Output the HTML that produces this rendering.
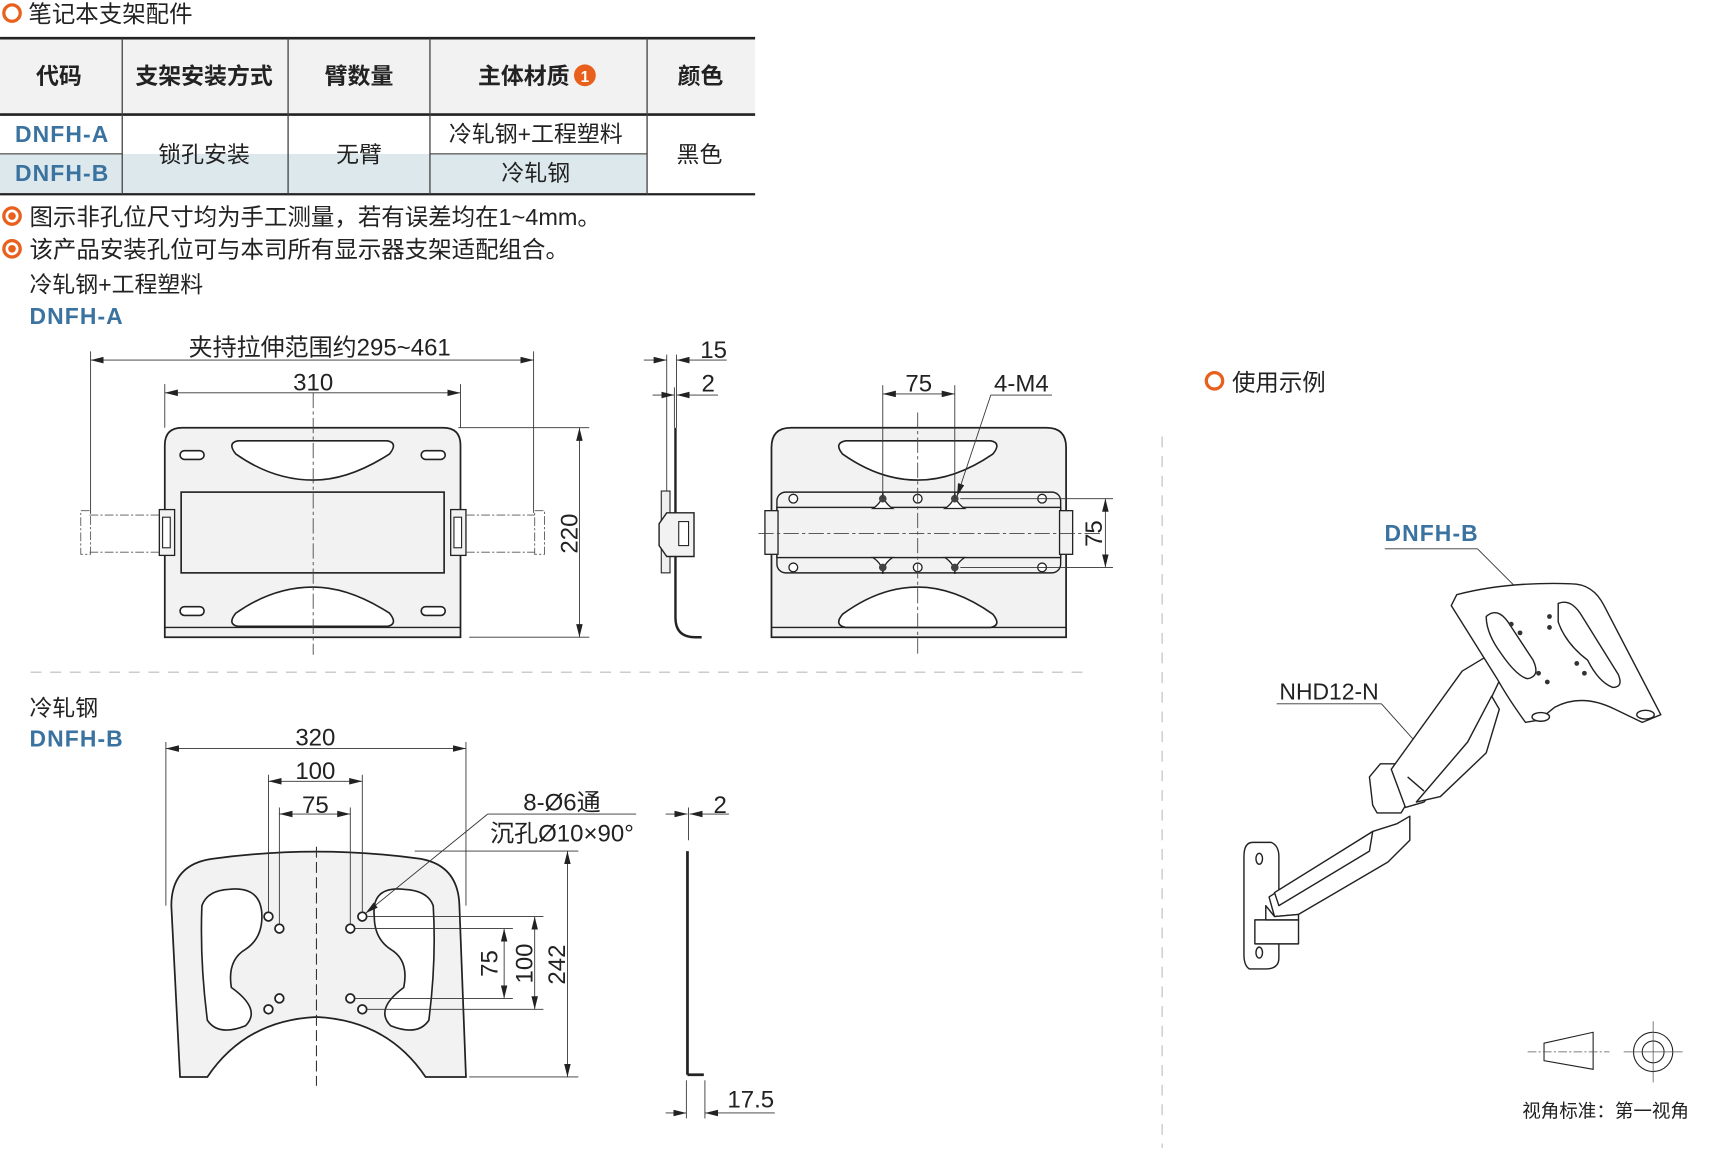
<!DOCTYPE html>
<html><head><meta charset="utf-8">
<style>
html,body{margin:0;padding:0;background:#fff;}
svg{display:block;}
text{font-family:"Liberation Sans","Noto Sans CJK SC",sans-serif;fill:#222;}
.blue{fill:#3a72a0;font-weight:bold;letter-spacing:1px;}
.ln{stroke:#222;stroke-width:1.2;fill:none;}
.thin{stroke:#333;stroke-width:0.8;fill:none;}
.cl{stroke:#444;stroke-width:0.8;fill:none;stroke-dasharray:14 3 3 3;}
.part{fill:#f2f2f2;stroke:#222;stroke-width:1.6;}
.hole{fill:#fff;stroke:#222;stroke-width:1.5;}
</style></head><body>
<svg width="1711" height="1149" viewBox="0 0 1568 1053" xmlns="http://www.w3.org/2000/svg">
<defs>
<marker id="ar" viewBox="0 0 12 6" refX="12" refY="3" markerWidth="12" markerHeight="6" orient="auto-start-reverse" markerUnits="userSpaceOnUse"><path d="M0,0 L12,3 L0,6 Z" fill="#222"/></marker>
</defs>

<circle cx="11" cy="12" r="7.5" fill="none" stroke="#e8601c" stroke-width="3"/>
<text x="26" y="20" font-size="21.5">笔记本支架配件</text>

<rect x="0" y="35" width="692" height="70" fill="#f2f2f2"/>
<rect x="0" y="141" width="593" height="37" fill="#dde8ec"/>
<rect x="112" y="105" width="152" height="36" fill="#fff"/>
<rect x="264" y="105" width="130" height="36" fill="#fff"/>
<line x1="0" y1="35" x2="692" y2="35" stroke="#222" stroke-width="2.5"/>
<line x1="0" y1="105" x2="692" y2="105" stroke="#222" stroke-width="2.5"/>
<line x1="0" y1="178" x2="692" y2="178" stroke="#222" stroke-width="2"/>
<line x1="0" y1="141" x2="112" y2="141" stroke="#777" stroke-width="1.5"/>
<line x1="394" y1="141" x2="593" y2="141" stroke="#777" stroke-width="1.5"/>
<g stroke="#444" stroke-width="1.2">
<line x1="112" y1="35" x2="112" y2="178"/><line x1="264" y1="35" x2="264" y2="178"/>
<line x1="394" y1="35" x2="394" y2="178"/><line x1="593" y1="35" x2="593" y2="178"/>
</g>
<g font-size="21" font-weight="bold" text-anchor="middle">
<text x="54" y="77">代码</text><text x="187" y="77">支架安装方式</text><text x="329" y="77">臂数量</text>
<text x="480" y="77">主体材质</text><text x="642" y="77">颜色</text>
</g>
<circle cx="536" cy="69" r="10" fill="#e8601c"/><text x="536" y="75" font-size="14" font-weight="bold" text-anchor="middle" style="fill:#fff">1</text>
<g font-size="21" text-anchor="middle">
<text x="57" y="130" class="blue">DNFH-A</text><text x="57" y="166" class="blue">DNFH-B</text>
<text x="187" y="149">锁孔安装</text><text x="329" y="149">无臂</text>
<text x="491" y="130">冷轧钢+工程塑料</text><text x="491" y="166">冷轧钢</text>
<text x="641" y="149">黑色</text>
</g>

<circle cx="11" cy="198" r="7.5" fill="none" stroke="#e8601c" stroke-width="3"/><circle cx="11" cy="198" r="3.5" fill="#e8601c"/>
<text x="27" y="206" font-size="21.5">图示非孔位尺寸均为手工测量，若有误差均在1~4mm。</text>
<circle cx="11" cy="228" r="7.5" fill="none" stroke="#e8601c" stroke-width="3"/><circle cx="11" cy="228" r="3.5" fill="#e8601c"/>
<text x="27" y="236" font-size="21.5">该产品安装孔位可与本司所有显示器支架适配组合。</text>
<text x="27" y="268" font-size="21">冷轧钢+工程塑料</text>
<text x="27" y="297" font-size="21" class="blue">DNFH-A</text>

<!-- View A front -->
<path class="part" d="M151,584 L151,408 Q151,392 167,392 L406,392 Q422,392 422,408 L422,584 Z"/>
<line class="ln" x1="151" y1="575" x2="422" y2="575"/>
<rect x="166" y="451" width="241" height="74" class="hole" style="fill:#f2f2f2"/>
<rect x="165" y="413" width="22" height="8" rx="4" class="hole"/><rect x="386" y="413" width="22" height="8" rx="4" class="hole"/>
<rect x="165" y="556" width="22" height="8" rx="4" class="hole"/><rect x="386" y="556" width="22" height="8" rx="4" class="hole"/>
<path class="hole" d="M218,404 L355,404 Q365,406 357,416 Q320,440 287,440 Q250,440 216,416 Q208,406 218,404 Z"/>
<path class="hole" d="M218,574 L355,574 Q365,572 357,562 Q320,538 287,538 Q250,538 216,562 Q208,572 218,574 Z"/>
<rect x="146" y="467" width="14" height="42" class="part" style="stroke-width:1.2"/><rect x="149" y="474" width="7" height="28" class="hole" style="stroke-width:1"/>
<rect x="413" y="467" width="14" height="42" class="part" style="stroke-width:1.2"/><rect x="416" y="474" width="7" height="28" class="hole" style="stroke-width:1"/>
<g stroke="#555" stroke-width="0.8" fill="none" stroke-dasharray="8 2 2 2">
<line x1="82" y1="472" x2="146" y2="472"/><line x1="82" y1="506" x2="146" y2="506"/>
<line x1="427" y1="472" x2="490" y2="472"/><line x1="427" y1="506" x2="490" y2="506"/>
<rect x="74" y="468" width="9" height="40"/><rect x="490" y="468" width="9" height="40"/>
</g>
<line class="cl" x1="287" y1="360" x2="287" y2="600"/>
<line class="thin" x1="83" y1="322" x2="83" y2="470"/><line class="thin" x1="489" y1="322" x2="489" y2="470"/>
<line class="thin" x1="83" y1="330" x2="489" y2="330" marker-start="url(#ar)" marker-end="url(#ar)"/>
<text x="293" y="326" font-size="22" text-anchor="middle">夹持拉伸范围约295~461</text>
<line class="thin" x1="151" y1="352" x2="151" y2="392"/><line class="thin" x1="422" y1="352" x2="422" y2="392"/>
<line class="thin" x1="151" y1="360" x2="422" y2="360" marker-start="url(#ar)" marker-end="url(#ar)"/>
<text x="287" y="358" font-size="22" text-anchor="middle">310</text>
<line class="thin" x1="420" y1="392" x2="540" y2="392"/><line class="thin" x1="430" y1="584" x2="540" y2="584"/>
<line class="thin" x1="531" y1="392" x2="531" y2="584" marker-start="url(#ar)" marker-end="url(#ar)"/>
<text transform="translate(529,489) rotate(-90)" font-size="22" text-anchor="middle">220</text>

<!-- side A -->
<path d="M619,392 L619,566 Q619,584 637,584 L643,584" stroke="#222" stroke-width="2.2" fill="none"/>
<rect x="606" y="450" width="8" height="75" fill="#eee" stroke="#222" stroke-width="1"/>
<path class="part" d="M611,470 L636,470 L636,510 L611,510 L604,500 L604,480 Z" style="stroke-width:1.3"/>
<rect x="622" y="478" width="9" height="22" class="hole" style="stroke-width:1"/>
<line class="thin" x1="611" y1="325" x2="611" y2="450"/><line class="thin" x1="620" y1="325" x2="620" y2="392"/>
<line class="thin" x1="590" y1="330" x2="611" y2="330" marker-end="url(#ar)"/><line class="thin" x1="666" y1="330" x2="620" y2="330" marker-end="url(#ar)"/>
<text x="654" y="328" font-size="22" text-anchor="middle">15</text>
<line class="thin" x1="618" y1="355" x2="618" y2="392"/>
<line class="thin" x1="598" y1="362" x2="618" y2="362" marker-end="url(#ar)"/><line class="thin" x1="658" y1="362" x2="620" y2="362" marker-end="url(#ar)"/>
<text x="649" y="359" font-size="22" text-anchor="middle">2</text>

<!-- Back view A -->
<path class="part" d="M707,584 L707,410 Q707,392 725,392 L959,392 Q977,392 977,410 L977,584 Z"/>
<line class="ln" x1="707" y1="575" x2="977" y2="575"/>
<path class="hole" d="M775,404 L908,404 Q918,406 910,416 Q875,440 841,440 Q806,440 772,416 Q764,406 775,404 Z"/>
<path class="hole" d="M775,575 L908,575 Q918,573 910,563 Q875,538 841,538 Q806,538 772,563 Q764,573 775,575 Z"/>
<rect x="712" y="451" width="260" height="74" rx="8" class="part" style="stroke-width:1.3"/>
<rect x="712" y="465" width="260" height="46" fill="#f2f2f2" stroke="#222" stroke-width="1.3"/>
<rect x="701" y="468" width="12" height="40" class="part" style="stroke-width:1.2"/><rect x="971" y="468" width="12" height="40" class="part" style="stroke-width:1.2"/>
<g class="hole" style="stroke-width:1.2">
<circle cx="727" cy="457" r="4"/><circle cx="841" cy="457" r="4"/><circle cx="955" cy="457" r="4"/>
<circle cx="727" cy="520" r="4"/><circle cx="841" cy="520" r="4"/><circle cx="955" cy="520" r="4"/>
<path d="M800,466 Q809,460 809,451 Q809,460 818,466 Z"/><path d="M866,466 Q875,460 875,451 Q875,460 884,466 Z"/>
<path d="M800,511 Q809,517 809,526 Q809,517 818,511 Z"/><path d="M866,511 Q875,517 875,526 Q875,517 884,511 Z"/>
</g>
<g fill="#444"><circle cx="809" cy="457" r="3.5"/><circle cx="875" cy="457" r="3.5"/><circle cx="809" cy="520" r="3.5"/><circle cx="875" cy="520" r="3.5"/></g>
<line class="cl" x1="841" y1="378" x2="841" y2="600"/><line class="cl" x1="695" y1="489" x2="1010" y2="489"/>
<line class="thin" x1="809" y1="353" x2="809" y2="457"/><line class="thin" x1="875" y1="353" x2="875" y2="457"/>
<line class="thin" x1="809" y1="361" x2="875" y2="361" marker-start="url(#ar)" marker-end="url(#ar)"/>
<text x="842" y="359" font-size="22" text-anchor="middle">75</text>
<text x="936" y="359" font-size="22" text-anchor="middle">4-M4</text>
<line class="thin" x1="908" y1="362" x2="964" y2="362"/>
<line class="thin" x1="908" y1="362" x2="877" y2="455" marker-end="url(#ar)"/>
<line class="thin" x1="880" y1="457" x2="1020" y2="457"/><line class="thin" x1="880" y1="520" x2="1020" y2="520"/>
<line class="thin" x1="1013" y1="457" x2="1013" y2="520" marker-start="url(#ar)" marker-end="url(#ar)"/>
<text transform="translate(1010,489) rotate(-90)" font-size="22" text-anchor="middle">75</text>

<line x1="28" y1="616" x2="1000" y2="616" stroke="#bbb" stroke-width="1" stroke-dasharray="10 8"/>
<line x1="1065" y1="400" x2="1065" y2="1052" stroke="#bbb" stroke-width="1" stroke-dasharray="10 8"/>

<!-- B section -->
<text x="27" y="656" font-size="21">冷轧钢</text>
<text x="27" y="684" font-size="21" class="blue">DNFH-B</text>
<path class="part" d="M165,987 L157,830 Q157,792 195,787 Q290,774 385,787 Q420,793 421,830 L427,987 L390,987 Q355,935 290,932 Q225,935 190,987 Z"/>
<path class="hole" d="M210,815 Q240,812 240,840 Q240,860 225,870 Q208,880 212,905 Q240,925 225,940 Q200,950 190,935 Q183,880 185,830 Q190,816 210,815 Z"/>
<path class="hole" d="M370,815 Q340,812 343,840 Q343,860 358,870 Q375,880 370,905 Q343,925 358,940 Q383,950 393,935 Q400,880 397,830 Q392,816 370,815 Z"/>
<g class="hole" style="stroke-width:1.6">
<circle cx="246" cy="840" r="4"/><circle cx="256" cy="851" r="4"/><circle cx="321" cy="851" r="4"/><circle cx="332" cy="840" r="4"/>
<circle cx="256" cy="915" r="4"/><circle cx="246" cy="925" r="4"/><circle cx="321" cy="915" r="4"/><circle cx="332" cy="925" r="4"/>
</g>
<line x1="290" y1="776" x2="290" y2="995" stroke="#333" stroke-width="1" stroke-dasharray="10 4"/>
<line class="thin" x1="152" y1="680" x2="152" y2="830"/><line class="thin" x1="427" y1="680" x2="427" y2="830"/>
<line class="thin" x1="152" y1="686" x2="427" y2="686" marker-start="url(#ar)" marker-end="url(#ar)"/>
<text x="289" y="683" font-size="22" text-anchor="middle">320</text>
<line class="thin" x1="246" y1="710" x2="246" y2="836"/><line class="thin" x1="332" y1="710" x2="332" y2="836"/>
<line class="thin" x1="246" y1="716" x2="332" y2="716" marker-start="url(#ar)" marker-end="url(#ar)"/>
<text x="289" y="714" font-size="22" text-anchor="middle">100</text>
<line class="thin" x1="256" y1="740" x2="256" y2="847"/><line class="thin" x1="321" y1="740" x2="321" y2="847"/>
<line class="thin" x1="256" y1="746" x2="321" y2="746" marker-start="url(#ar)" marker-end="url(#ar)"/>
<text x="289" y="745" font-size="22" text-anchor="middle">75</text>
<text x="515" y="743" font-size="22" text-anchor="middle">8-Ø6通</text>
<text x="515" y="771" font-size="22" text-anchor="middle">沉孔Ø10×90°</text>
<line class="thin" x1="447" y1="746" x2="583" y2="746"/>
<line class="thin" x1="447" y1="746" x2="335" y2="837" marker-end="url(#ar)"/>
<line class="thin" x1="380" y1="780" x2="530" y2="780"/><line class="thin" x1="430" y1="987" x2="530" y2="987"/>
<line class="thin" x1="520" y1="780" x2="520" y2="987" marker-start="url(#ar)" marker-end="url(#ar)"/>
<text transform="translate(518,884) rotate(-90)" font-size="22" text-anchor="middle">242</text>
<line class="thin" x1="336" y1="840" x2="498" y2="840"/><line class="thin" x1="336" y1="925" x2="498" y2="925"/>
<line class="thin" x1="490" y1="840" x2="490" y2="925" marker-start="url(#ar)" marker-end="url(#ar)"/>
<text transform="translate(488,883) rotate(-90)" font-size="22" text-anchor="middle">100</text>
<line class="thin" x1="325" y1="851" x2="470" y2="851"/><line class="thin" x1="325" y1="915" x2="470" y2="915"/>
<line class="thin" x1="462" y1="851" x2="462" y2="915" marker-start="url(#ar)" marker-end="url(#ar)"/>
<text transform="translate(456,883) rotate(-90)" font-size="22" text-anchor="middle">75</text>
<line x1="630" y1="780" x2="630" y2="985" stroke="#222" stroke-width="2.5"/>
<line x1="630" y1="985" x2="645" y2="985" stroke="#222" stroke-width="2.5"/>
<line class="thin" x1="631" y1="740" x2="631" y2="770"/>
<line class="thin" x1="610" y1="746" x2="630" y2="746" marker-end="url(#ar)"/><line class="thin" x1="668" y1="746" x2="632" y2="746" marker-end="url(#ar)"/>
<text x="660" y="745" font-size="22" text-anchor="middle">2</text>
<line class="thin" x1="629" y1="990" x2="629" y2="1025"/><line class="thin" x1="646" y1="990" x2="646" y2="1025"/>
<line class="thin" x1="610" y1="1020" x2="629" y2="1020" marker-end="url(#ar)"/><line class="thin" x1="710" y1="1020" x2="646" y2="1020" marker-end="url(#ar)"/>
<text x="688" y="1015" font-size="22" text-anchor="middle">17.5</text>

<!-- Usage example -->
<circle cx="1113" cy="349" r="7.5" fill="none" stroke="#e8601c" stroke-width="3"/>
<text x="1129" y="358" font-size="21.5">使用示例</text>
<text x="1312" y="496" font-size="21" class="blue" text-anchor="middle">DNFH-B</text>
<line class="thin" x1="1269" y1="503" x2="1354" y2="503"/><line class="thin" x1="1354" y1="503" x2="1388" y2="537"/>
<text x="1218" y="641" font-size="21" text-anchor="middle">NHD12-N</text>
<line class="thin" x1="1170" y1="645" x2="1266" y2="645"/><line class="thin" x1="1266" y1="645" x2="1300" y2="683"/>
<g fill="#fff" stroke="#222" stroke-width="1.3" stroke-linejoin="round">
<path d="M1148,772 L1165,772 Q1172,775 1172,785 L1172,878 Q1172,888 1160,888 L1145,888 Q1140,885 1140,875 L1140,785 Q1140,772 1148,772 Z"/>
<ellipse cx="1154" cy="787" rx="3" ry="5"/><ellipse cx="1154" cy="873" rx="3" ry="5"/>
<path d="M1163,822 L1258,762 L1280,755 L1292,748 L1292,770 L1272,790 L1190,838 L1168,840 Z"/>
<path d="M1168,818 L1258,762 L1255,780 L1172,830 Z"/>
<rect x="1150" y="843" width="40" height="22"/>
<path d="M1160,830 L1168,840 L1190,838 L1190,843 L1160,843 Z"/>
<path d="M1258,738 L1255,712 L1265,700 L1278,700 L1290,735 L1284,745 L1262,745 Z"/>
<path d="M1275,705 L1340,615 L1365,600 L1375,622 L1345,685 L1305,735 L1288,740 Z"/>
<path d="M1298,735 L1345,680 L1367,638 L1374,650 L1362,690 L1320,730 Z"/>
<line x1="1290" y1="712" x2="1305" y2="725"/>
<path d="M1335,545 Q1380,533 1440,535 Q1460,535 1470,555 L1522,655 L1505,662 L1480,650 Q1450,635 1425,648 L1410,660 L1398,662 Q1382,640 1372,622 L1330,555 Z"/>
<path d="M1362,565 Q1372,556 1382,570 L1405,605 Q1412,620 1400,622 Q1390,620 1375,598 Q1362,580 1362,565 Z"/>
<path d="M1428,553 Q1440,548 1450,565 L1483,618 Q1488,630 1478,630 Q1465,625 1455,605 Q1435,590 1428,570 Z"/>
<ellipse cx="1412" cy="657" rx="8" ry="4"/><ellipse cx="1508" cy="655" rx="8" ry="4"/>
</g>
<g fill="#333"><circle cx="1385" cy="572" r="2.2"/><circle cx="1393" cy="580" r="2.2"/><circle cx="1420" cy="565" r="2.2"/><circle cx="1420" cy="575" r="2.2"/><circle cx="1410" cy="617" r="2.2"/><circle cx="1418" cy="625" r="2.2"/><circle cx="1445" cy="608" r="2.2"/><circle cx="1452" cy="617" r="2.2"/></g>

<path d="M1415,956 L1460,946 L1460,980 L1415,972 Z" fill="none" stroke="#222" stroke-width="1"/>
<line x1="1400" y1="964" x2="1475" y2="964" stroke="#555" stroke-width="0.7" stroke-dasharray="8 2 2 2"/>
<circle cx="1515" cy="964" r="18" fill="none" stroke="#222" stroke-width="1"/>
<circle cx="1515" cy="964" r="10" fill="none" stroke="#222" stroke-width="1"/>
<line x1="1488" y1="964" x2="1542" y2="964" stroke="#555" stroke-width="0.7"/><line x1="1515" y1="936" x2="1515" y2="992" stroke="#555" stroke-width="0.7"/>
<text x="1395" y="1024" font-size="17">视角标准：第一视角</text>
</svg>
</body></html>
